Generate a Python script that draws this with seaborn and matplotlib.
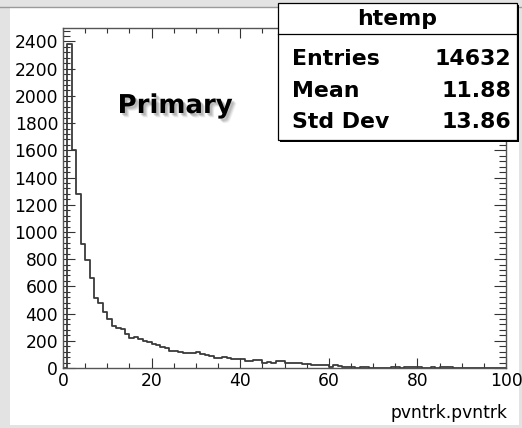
import numpy as np
import pandas as pd
import matplotlib
matplotlib.use("Agg")
import matplotlib.pyplot as plt
import matplotlib.patheffects as pe
from matplotlib.patches import Rectangle
from matplotlib.ticker import MultipleLocator
import seaborn as sns

# ---- data (100 bins of width 1 on [0,100)) ----
bin_edges = list(range(0, 101))
counts = [
    0, 2380, 1600, 1282, 915, 797, 662, 514, 477, 411,
    359, 310, 297, 290, 251, 224, 231, 212, 200, 190,
    175, 168, 157, 145, 128, 122, 118, 113, 110, 108,
    120, 105, 92, 88, 75, 72, 80, 76, 68, 66,
    64, 52, 50, 58, 59, 40, 42, 38, 51, 48,
    34, 36, 39, 37, 27, 29, 25, 22, 20, 22,
    10, 22, 18, 5, 4, 6, 3, 10, 9, 3,
    2, 3, 1, 2, 4, 10, 2, 8, 9, 7,
    8, 2, 3, 10, 2, 9, 8, 9, 3, 1,
    2, 1, 1, 2, 1, 0, 1, 1, 0, 1,
]
stat_labels = ["Entries", "Mean", "Std Dev"]
stat_values = ["14632", "11.88", "13.86"]
hist_name = "htemp"
x_title = "pvntrk.pvntrk"
annotation = "Primary"
x_ticks = [0, 20, 40, 60, 80, 100]
y_ticks = list(range(0, 2401, 200))

centers = [e + 0.5 for e in bin_edges[:-1]]
df = pd.DataFrame({"x": centers, "w": counts})

W, H = 522, 428
fig = plt.figure(figsize=(W / 100, H / 100), dpi=100)
fig.patch.set_facecolor("#e3e3e3")

def fx(px):
    return px / W

def fy(py):
    return 1 - py / H

# white canvas area
fig.add_artist(Rectangle((fx(10), fy(425)), fx(519) - fx(10), fy(7) - fy(425),
                         transform=fig.transFigure, facecolor="white",
                         edgecolor="none", zorder=0))
fig.add_artist(plt.Line2D([0, 1], [fy(6.5), fy(6.5)], transform=fig.transFigure,
                          color="#9a9a9a", lw=1, zorder=0.5))

ax = fig.add_axes([fx(63), fy(368), fx(506) - fx(63), fy(28) - fy(368)])
ax.set_facecolor("white")

sns.histplot(data=df, x="x", weights="w", bins=bin_edges, element="step",
             fill=False, color="#3a3a3a", linewidth=1.3, ax=ax)

ax.set_xlim(0, 100)
ax.set_ylim(0, max(counts) * 1.05)
ax.set_xticks(x_ticks)
ax.set_yticks(y_ticks)
ax.xaxis.set_minor_locator(MultipleLocator(5))
ax.yaxis.set_minor_locator(MultipleLocator(40))
ax.set_ylabel("")

fam = ["DejaVu Sans"]
for sp in ax.spines.values():
    sp.set_color("#555555")
    sp.set_linewidth(1.0)

ax.tick_params(axis="x", which="major", direction="in", length=7.2, width=0.8,
               top=True, bottom=True, color="#333333", labelsize=12.3, pad=3)
ax.tick_params(axis="x", which="minor", direction="in", length=3.8, width=0.8,
               top=True, bottom=True, color="#333333")
ax.tick_params(axis="y", which="major", direction="in", length=8.8, width=0.8,
               left=True, right=True, color="#333333", labelsize=12.3, pad=3.5)
ax.tick_params(axis="y", which="minor", direction="in", length=4.8, width=0.8,
               left=True, right=True, color="#333333")
for lab in ax.get_xticklabels() + ax.get_yticklabels():
    lab.set_family(fam)

ax.set_xlabel(x_title, fontsize=12.3, family=fam, ha="right", va="top")
ax.xaxis.set_label_coords((508 - 63) / 443, (368 - 404) / 340)

# "Primary" annotation with soft drop shadow
shadow = [pe.SimplePatchShadow(offset=(o, -o), shadow_rgbFace="#888888", alpha=a)
          for o, a in [(3.2, 0.12), (2.6, 0.18), (2.0, 0.25), (1.4, 0.25)]]
ax.text(fx(175), fy(106), annotation, transform=fig.transFigure,
        ha="center", va="center", fontsize=18.7, fontweight="bold", family=fam,
        color="black", zorder=5, path_effects=shadow + [pe.Normal()])

# stats box
bx0, by0, bx1, by1 = 278, 3, 517, 140
fig.add_artist(Rectangle((fx(bx0 + 2), fy(by1 + 2)), fx(bx1) - fx(bx0), fy(by0) - fy(by1),
                         transform=fig.transFigure, facecolor="black",
                         edgecolor="none", zorder=9))
fig.add_artist(Rectangle((fx(bx0), fy(by1)), fx(bx1) - fx(bx0), fy(by0) - fy(by1),
                         transform=fig.transFigure, facecolor="white",
                         edgecolor="black", lw=0.9, zorder=10))
fig.add_artist(plt.Line2D([fx(bx0), fx(bx1)], [fy(34), fy(34)], transform=fig.transFigure,
                          color="black", lw=0.9, zorder=11))
fig.text(fx(397), fy(19), hist_name, ha="center", va="center", fontsize=15.8,
         fontweight="bold", family=fam, zorder=12)
for i, (lab, val) in enumerate(zip(stat_labels, stat_values)):
    yy = [59, 91, 122][i]
    fig.text(fx(292), fy(yy), lab, ha="left", va="center", fontsize=15.8,
             fontweight="bold", family=fam, zorder=12)
    fig.text(fx(511), fy(yy), val, ha="right", va="center", fontsize=15.8,
             fontweight="bold", family=fam, zorder=12)

fig.savefig("out.png", dpi=100, facecolor=fig.get_facecolor())
